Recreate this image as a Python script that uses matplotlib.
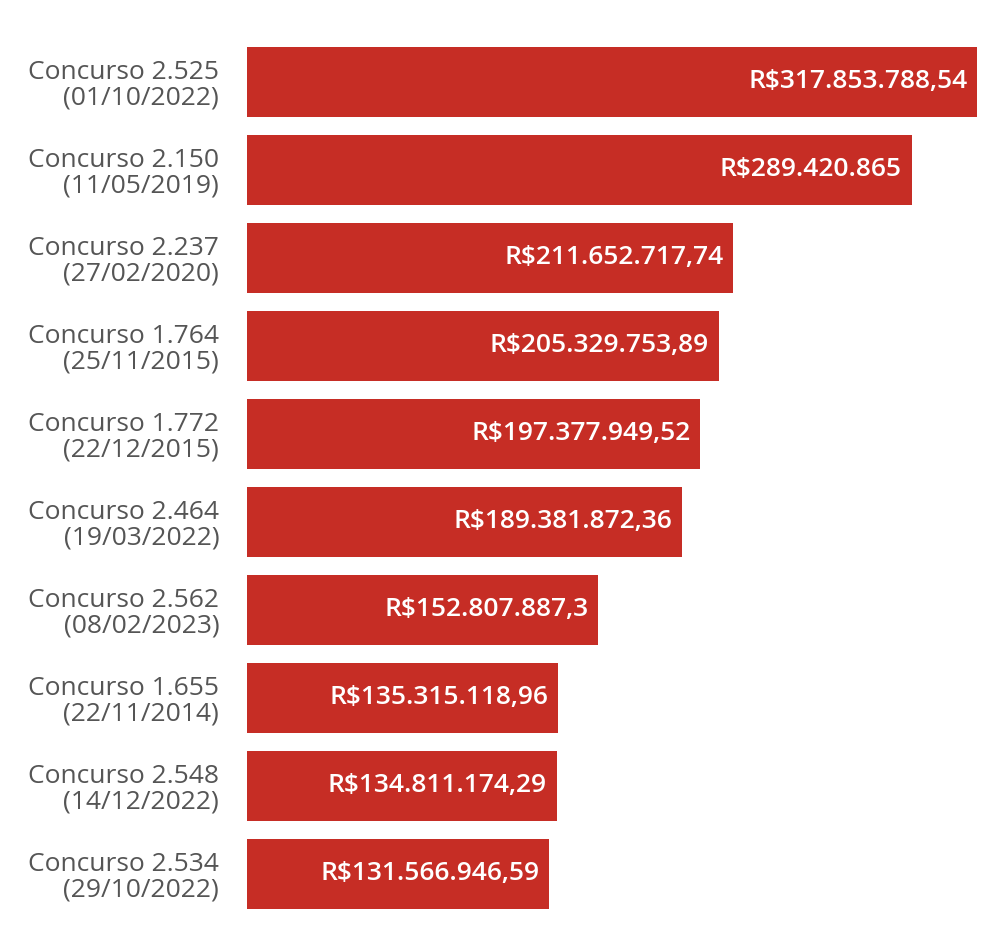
import matplotlib.pyplot as plt

concursos = ["Concurso 2.525\n(01/10/2022)", "Concurso 2.150\n(11/05/2019)", "Concurso 2.237\n(27/02/2020)",
             "Concurso 1.764\n(25/11/2015)", "Concurso 1.772\n(22/12/2015)", "Concurso 2.464\n(19/03/2022)",
             "Concurso 2.562\n(08/02/2023)", "Concurso 1.655\n(22/11/2014)", "Concurso 2.548\n(14/12/2022)",
             "Concurso 2.534\n(29/10/2022)"]
valores = [317853788.54, 289420865, 211652717.74, 205329753.89, 197377949.52,
           189381872.36, 152807887.3, 135315118.96, 134811174.29, 131566946.59]
rotulos = ["R$317.853.788,54", "R$289.420.865", "R$211.652.717,74", "R$205.329.753,89",
           "R$197.377.949,52", "R$189.381.872,36", "R$152.807.887,3", "R$135.315.118,96",
           "R$134.811.174,29", "R$131.566.946,59"]

plt.rcParams['font.family'] = ['Open Sans', 'DejaVu Sans']
fig = plt.figure(figsize=(10.07, 9.49), dpi=100)
ax = fig.add_axes([247 / 1007, 1 - 918 / 949, 730 / 1007, 880 / 949])

y = list(range(len(valores)))
ax.barh(y, valores, height=0.8, color='#c62d25')
for yi, v, r in zip(y, valores, rotulos):
    ax.annotate(r, (v, yi), xytext=(-7, 0), textcoords='offset points', ha='right', va='center',
                color='white', fontsize=19, fontweight='semibold')

ax.set_xlim(0, valores[0])
ax.set_ylim(len(valores) - 0.5, -0.5)
ax.set_yticks(y)
ax.set_yticklabels(concursos, fontsize=19, color='#555555', linespacing=1.05)
ax.tick_params(axis='y', length=0, pad=20)
ax.set_xticks([])
for s in ax.spines.values():
    s.set_visible(False)

fig.savefig('out.png', dpi=100)
